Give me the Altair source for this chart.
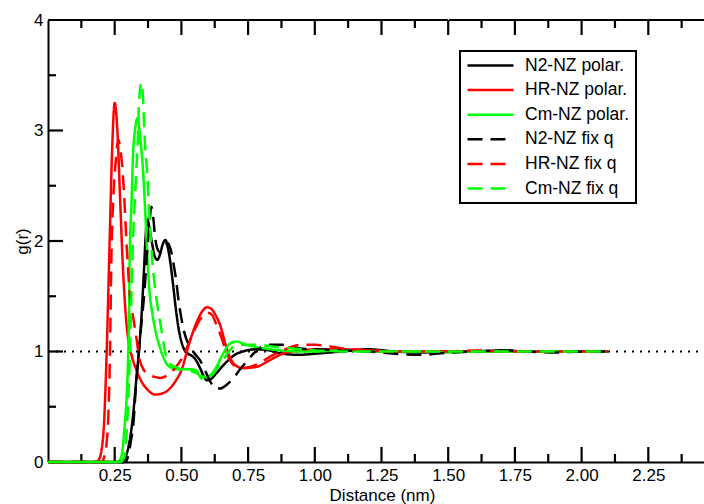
import altair as alt
import pandas as pd

# ---------------- data ----------------
series_names = ["N2-NZ polar.", "HR-NZ polar.", "Cm-NZ polar.",
                "N2-NZ fix q", "HR-NZ fix q", "Cm-NZ fix q"]

n2_polar_r = [0, 0.28, 0.29, 0.30, 0.31, 0.32, 0.33, 0.34, 0.35, 0.36, 0.365, 0.372, 0.38, 0.39,
              0.40, 0.41, 0.42, 0.43, 0.44, 0.45, 0.46, 0.47, 0.48, 0.49, 0.50, 0.51, 0.525, 0.54,
              0.555, 0.57, 0.585, 0.595, 0.61, 0.63, 0.655, 0.68, 0.70, 0.73, 0.78, 0.83, 0.88,
              0.94, 1.0, 1.1, 1.2, 1.3, 1.4, 1.5, 1.6, 1.7, 1.8, 1.9, 2.0, 2.1]
n2_polar_g = [0, 0, 0.04, 0.12, 0.25, 0.45, 0.72, 0.98, 1.3, 1.75, 2.0, 2.2, 2.12, 1.98,
              1.86, 1.83, 1.88, 1.97, 2.01, 1.93, 1.78, 1.58, 1.37, 1.2, 1.09, 1.02, 0.98, 0.96,
              0.92, 0.85, 0.77, 0.74, 0.75, 0.8, 0.87, 0.93, 0.97, 1.0, 1.02, 1.01, 0.98,
              0.97, 0.98, 1.0, 1.02, 1.0, 0.99, 1.0, 1.0, 1.01, 1.0, 1.0, 1.0, 1.0]

hr_polar_r = [0, 0.18, 0.19, 0.20, 0.21, 0.22, 0.23, 0.24, 0.25, 0.26, 0.27, 0.28, 0.29, 0.30,
              0.315, 0.33, 0.35, 0.375, 0.40, 0.42, 0.45, 0.48, 0.50, 0.53, 0.56, 0.58, 0.595,
              0.61, 0.63, 0.645, 0.665, 0.685, 0.70, 0.73, 0.78, 0.83, 0.88, 0.95, 1.0, 1.1,
              1.2, 1.3, 1.4, 1.5, 1.6, 1.7, 1.8, 1.9, 2.0, 2.1]
hr_polar_g = [0, 0, 0.02, 0.1, 0.35, 1.0, 1.9, 2.8, 3.25, 3.0, 2.4, 1.8, 1.38, 1.12,
              0.95, 0.84, 0.73, 0.65, 0.61, 0.615, 0.65, 0.74, 0.83, 1.08, 1.28, 1.37, 1.40,
              1.39, 1.32, 1.24, 1.07, 0.93, 0.88, 0.85, 0.86, 0.92, 0.98, 1.01, 1.02, 1.02,
              1.01, 1.0, 1.0, 1.0, 1.0, 1.0, 1.0, 1.0, 1.0, 1.0]

cm_polar_r = [0, 0.26, 0.275, 0.287, 0.295, 0.30, 0.304, 0.306, 0.313, 0.319, 0.327, 0.335,
              0.345, 0.356, 0.366, 0.375, 0.381, 0.39, 0.40, 0.419, 0.444, 0.465, 0.481, 0.50,
              0.531, 0.555, 0.57, 0.59, 0.61, 0.631, 0.656, 0.681, 0.706, 0.744, 0.806, 0.87,
              0.95, 1.0, 1.1, 1.2, 1.3, 1.4, 1.5, 1.6, 1.7, 1.8, 1.9, 2.0, 2.1]
cm_polar_g = [0, 0, 0.05, 0.32, 0.6, 0.92, 1.4, 1.85, 2.34, 2.79, 3.02, 3.11,
              2.95, 2.64, 2.19, 1.74, 1.53, 1.36, 1.22, 1.04, 0.89, 0.85, 0.84, 0.84,
              0.84, 0.83, 0.78, 0.77, 0.79, 0.86, 0.98, 1.07, 1.09, 1.06, 1.03, 1.01,
              1.0, 1.0, 1.01, 1.0, 1.0, 1.0, 0.99, 1.0, 1.0, 1.0, 1.0, 1.0, 1.0]

n2_fix_r = [0, 0.29, 0.30, 0.31, 0.32, 0.33, 0.34, 0.35, 0.36, 0.37, 0.38, 0.387, 0.395, 0.40,
            0.41, 0.42, 0.435, 0.45, 0.46, 0.47, 0.48, 0.49, 0.50, 0.51, 0.53, 0.55, 0.57, 0.59,
            0.61, 0.63, 0.645, 0.67, 0.695, 0.72, 0.745, 0.77, 0.80, 0.83, 0.88, 0.94, 1.0,
            1.1, 1.2, 1.3, 1.4, 1.5, 1.6, 1.7, 1.8, 1.9, 2.0, 2.1]
n2_fix_g = [0, 0, 0.05, 0.18, 0.35, 0.7, 0.98, 1.25, 1.5, 1.85, 2.15, 2.31, 2.2, 2.07,
            1.93, 1.9, 1.95, 1.98, 1.92, 1.8, 1.65, 1.45, 1.3, 1.18, 1.05, 0.98, 0.92, 0.82,
            0.72, 0.665, 0.665, 0.7, 0.76, 0.84, 0.91, 0.98, 1.04, 1.06, 1.06, 1.03, 1.02,
            1.01, 1.0, 0.98, 0.97, 0.99, 1.0, 1.01, 1.0, 0.99, 1.0, 1.0]

hr_fix_r = [0, 0.20, 0.21, 0.22, 0.225, 0.232, 0.238, 0.245, 0.255, 0.263, 0.27, 0.28, 0.287,
            0.293, 0.30, 0.306, 0.32, 0.331, 0.343, 0.36, 0.38, 0.40, 0.42, 0.444, 0.465, 0.48,
            0.505, 0.525, 0.545, 0.565, 0.58, 0.60, 0.615, 0.63, 0.645, 0.665, 0.68, 0.70,
            0.73, 0.78, 0.83, 0.88, 0.95, 1.0, 1.05, 1.1, 1.2, 1.3, 1.4, 1.5, 1.6, 1.7, 1.8,
            1.9, 2.0, 2.1]
hr_fix_g = [0, 0, 0.04, 0.18, 0.35, 0.95, 1.9, 2.4, 2.75, 2.92, 2.85, 2.62, 2.34,
            2.04, 1.75, 1.53, 1.3, 1.13, 0.93, 0.83, 0.79, 0.77, 0.76, 0.78, 0.82, 0.86,
            0.95, 1.06, 1.17, 1.27, 1.32, 1.35, 1.33, 1.25, 1.16, 1.02, 0.93, 0.87,
            0.85, 0.88, 0.95, 1.01, 1.06, 1.06, 1.05, 1.03, 1.01, 1.0, 1.0, 1.0, 1.01, 1.0, 1.0,
            1.0, 1.0, 1.0]

cm_fix_r = [0, 0.27, 0.287, 0.296, 0.306, 0.313, 0.319, 0.325, 0.331, 0.337, 0.341, 0.35,
            0.356, 0.362, 0.371, 0.381, 0.39, 0.40, 0.41, 0.425, 0.437, 0.456, 0.487, 0.51,
            0.54, 0.56, 0.58, 0.60, 0.62, 0.64, 0.656, 0.675, 0.694, 0.731, 0.78, 0.856, 0.906,
            0.95, 1.0, 1.1, 1.2, 1.3, 1.4, 1.5, 1.6, 1.7, 1.8, 1.9, 2.0, 2.1]
cm_fix_g = [0, 0, 0.05, 0.32, 0.92, 1.53, 2.04, 2.34, 2.64, 2.94, 3.25, 3.43,
            3.3, 2.94, 2.64, 2.19, 1.85, 1.6, 1.42, 1.2, 1.02, 0.89, 0.85, 0.83,
            0.82, 0.8, 0.75, 0.76, 0.8, 0.87, 0.92, 0.99, 1.04, 1.06, 1.06, 1.04, 1.03,
            1.02, 1.01, 1.0, 1.0, 1.0, 1.0, 1.0, 1.0, 1.0, 1.0, 1.0, 1.0, 1.0]

series_r = [n2_polar_r, hr_polar_r, cm_polar_r, n2_fix_r, hr_fix_r, cm_fix_r]
series_g = [n2_polar_g, hr_polar_g, cm_polar_g, n2_fix_g, hr_fix_g, cm_fix_g]

ref_r = [0, 2.5]
ref_g = [1, 1]

x_major = [0.25, 0.5, 0.75, 1.0, 1.25, 1.5, 1.75, 2.0, 2.25, 2.5]
x_minor = [0.125, 0.375, 0.625, 0.875, 1.125, 1.375, 1.625, 1.875, 2.125, 2.375]
x_labels = [0.25, 0.5, 0.75, 1.0, 1.25, 1.5, 1.75, 2.0, 2.25]
y_major = [1, 2, 3]
y_minor = [0.5, 1.5, 2.5, 3.5]
y_labels = [0, 1, 2, 3, 4]

X_MAX, Y_MAX = 2.5, 4

# ---------------- styles ----------------
series_colors = ["#000000", "#ff0000", "#00ff00", "#000000", "#ff0000", "#00ff00"]
series_dash = [[1, 0], [1, 0], [1, 0], [15, 8], [15, 8], [15, 8]]
FONT = "Liberation Sans"
W, H = 656, 442
XRANGE = 667                      # pixel length of the full 0..2.5 nm range
MAJOR, MINOR = 15, 8              # tick lengths in px
PX_X = X_MAX / XRANGE             # nm per px
PX_Y = Y_MAX / H                  # g per px

rows = []
for k, name in enumerate(series_names):
    for r, g in zip(series_r[k], series_g[k]):
        rows.append({"r": r, "g": g, "series": name, "k": k})
df = pd.DataFrame(rows)
ref_df = pd.DataFrame({"r": ref_r, "g": ref_g})

# inward tick marks and top frame as short two-point segments (built from tick lists)
seg_rows = []
sid = 0


def add_seg(r0, g0, r1, g1):
    global sid
    seg_rows.append({"sid": sid, "r": r0, "g": g0})
    seg_rows.append({"sid": sid, "r": r1, "g": g1})
    sid += 1


for v in x_major:
    add_seg(v, 0, v, MAJOR * PX_Y)
    add_seg(v, Y_MAX, v, Y_MAX - MAJOR * PX_Y)
for v in x_minor:
    add_seg(v, 0, v, MINOR * PX_Y)
    add_seg(v, Y_MAX, v, Y_MAX - MINOR * PX_Y)
for v in y_major:
    add_seg(0, v, MAJOR * PX_X, v)
for v in y_minor:
    add_seg(0, v, MINOR * PX_X, v)
add_seg(0, Y_MAX, X_MAX, Y_MAX)
seg_df = pd.DataFrame(seg_rows)

xscale = alt.Scale(domain=[0, X_MAX], range=[0, XRANGE], nice=False, zero=False)
yscale = alt.Scale(domain=[0, Y_MAX], nice=False, zero=False)

legend = alt.Legend(
    title=None, orient="none", legendX=412, legendY=31,
    symbolType="stroke", symbolSize=2116, symbolStrokeWidth=2.5,
    labelFont=FONT, labelFontSize=17.5, labelColor="black", labelOffset=10,
    clipHeight=17, padding=6, rowPadding=6.6, strokeColor="black", fillColor="white",
)

x_axis = alt.Axis(
    orient="bottom", values=x_labels, format=".2f", ticks=False,
    labelPadding=13, labelBaseline="middle", labelFont=FONT, labelFontSize=17,
    labelColor="black", domain=True, domainColor="black", domainWidth=2,
    title="Distance (nm)", titleFont=FONT, titleFontSize=17, titleFontWeight="normal",
    titleColor="black", titleX=334, titleY=33, titleBaseline="middle", titleAlign="center",
    grid=False)
y_axis = alt.Axis(
    orient="left", values=y_labels, format="d", ticks=False,
    labelPadding=5, labelFont=FONT, labelFontSize=17, labelColor="black",
    domain=True, domainColor="black", domainWidth=2,
    title="g(r)", titleFont=FONT, titleFontSize=17, titleFontWeight="normal",
    titleColor="black", titleX=-26, titleY=221, titleAngle=270,
    titleBaseline="middle", titleAlign="center", grid=False)

ref_line = alt.Chart(ref_df).mark_line(color="black", strokeWidth=1.8, strokeDash=[2, 6]).encode(
    x=alt.X("r:Q", scale=xscale, axis=x_axis),
    y=alt.Y("g:Q", scale=yscale, axis=y_axis),
)

ticks = alt.Chart(seg_df).mark_line(color="black", strokeWidth=2.2, strokeDash=[400, 1]).encode(
    x=alt.X("r:Q", scale=xscale),
    y=alt.Y("g:Q", scale=yscale),
    detail="sid:N",
)

lines = alt.Chart(df).mark_line(strokeWidth=2.5, interpolate="monotone").encode(
    x=alt.X("r:Q", scale=xscale),
    y=alt.Y("g:Q", scale=yscale),
    color=alt.Color("series:N", scale=alt.Scale(domain=series_names, range=series_colors),
                    legend=legend),
    strokeDash=alt.StrokeDash("series:N", scale=alt.Scale(domain=series_names, range=series_dash),
                              legend=legend),
    order=alt.Order("r:Q"),
)

chart = alt.layer(ref_line, ticks, lines).properties(
    width=W, height=H,
    autosize=alt.AutoSizeParams(type="none"),
    padding={"left": 48, "top": 20, "right": 0, "bottom": 42},
    background="white",
).configure_view(stroke=None).configure_legend(strokeWidth=2).configure_axis(grid=False)

chart.save("out.html", embed_options={"renderer": "svg", "actions": False})
